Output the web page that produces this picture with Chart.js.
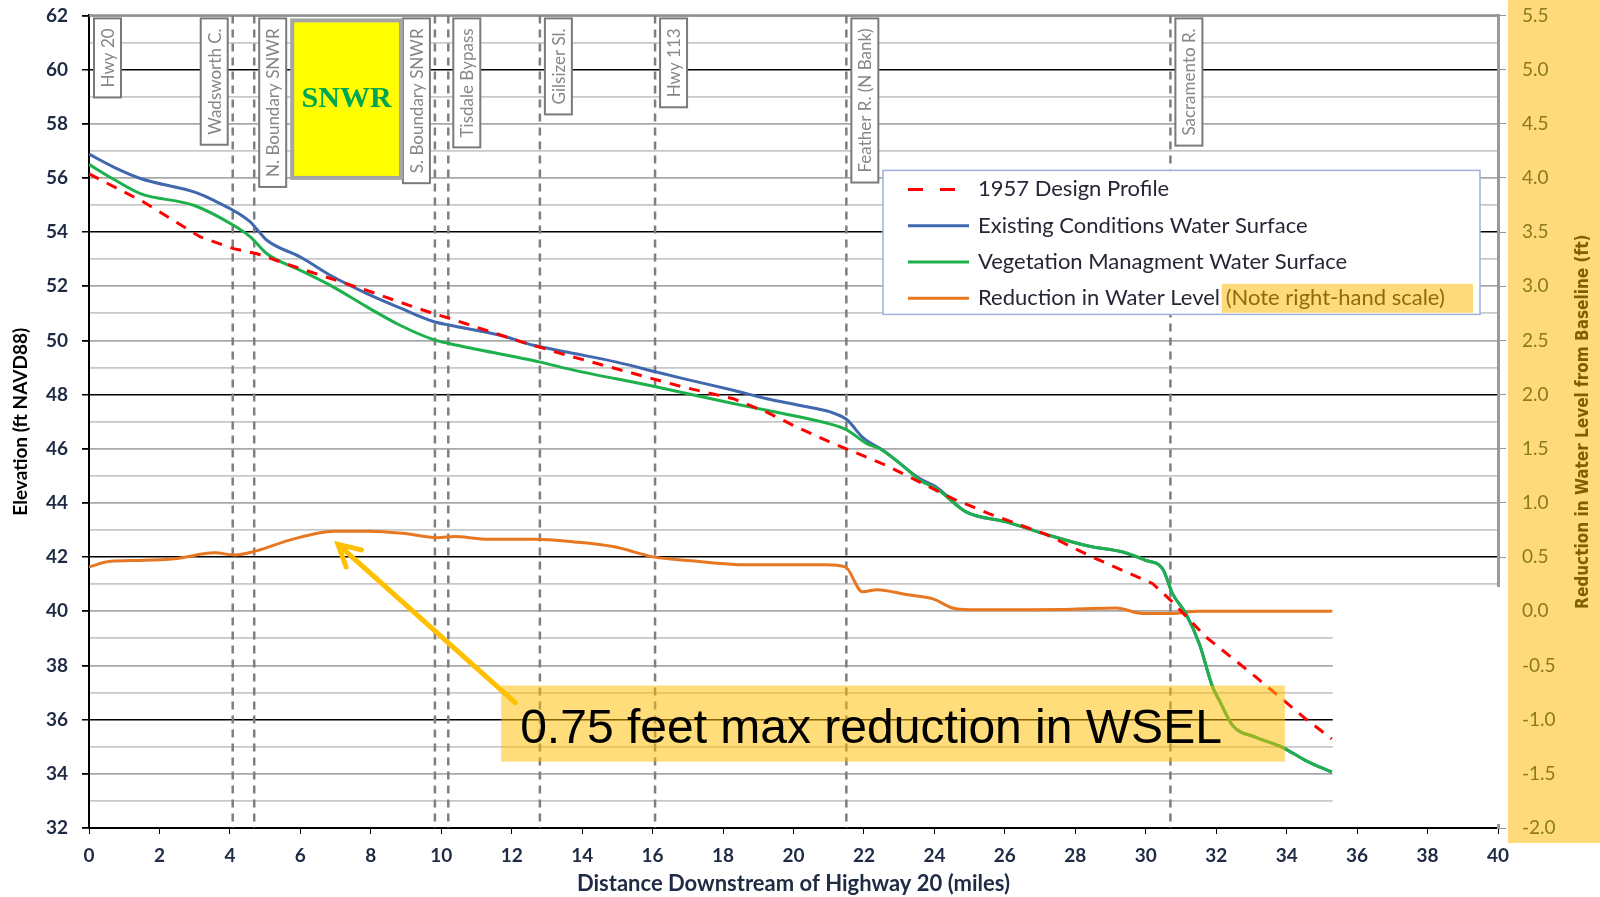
<!DOCTYPE html>
<html>
<head>
<meta charset="utf-8">
<script src="https://cdn.jsdelivr.net/npm/chart.js@4.4.1/dist/chart.umd.min.js"></script>
<style>
html, body { margin: 0; padding: 0; background: #fff; overflow: hidden; }
#wrap { width: 1600px; height: 909px; position: relative; margin-top: -12px; }
</style>
</head>
<body>
<div id="wrap"><canvas id="profile"></canvas></div>
<script>
// Sutter Bypass water surface profiles, distance in miles downstream of Hwy 20

// 1957 design profile (ft NAVD88)
const designMiles = [0, 1.55, 3.16, 4.1, 4.77, 6.0, 7.89, 8.83, 9.78, 10.25, 12.15, 13.57, 15.46, 16.87, 18.29, 19.24, 20.19, 21.13, 21.5, 22.63, 24.52, 25.56, 27.17, 28.49, 30.2, 30.76, 31.71, 33.13, 34.54, 35.28];
const designElev = [56.15, 55.11, 53.82, 53.39, 53.2, 52.65, 51.85, 51.41, 50.99, 50.81, 50.0, 49.45, 48.78, 48.28, 47.85, 47.35, 46.74, 46.19, 46.0, 45.39, 44.16, 43.6, 42.84, 42.0, 41.02, 40.34, 39.05, 37.57, 36.03, 35.29];

// existing conditions water surface
const existingMiles = [0, 0.7, 1.46, 3.06, 3.53, 4.58, 4.77, 5.05, 6.0, 6.94, 7.89, 8.83, 9.78, 10.25, 11.67, 12.62, 13.57, 14.98, 16.12, 16.87, 18.29, 19.24, 20.19, 21.04, 21.51, 21.98, 22.55, 23.58, 24.05, 24.9, 26.04, 27.17, 28.4, 29.35, 30.0, 30.48, 30.76, 31.14, 31.52, 31.9, 32.09, 32.47, 33.13, 33.88, 34.54, 35.28];
const existingElev = [56.88, 56.4, 55.98, 55.45, 55.18, 54.38, 54.1, 53.7, 53.08, 52.34, 51.73, 51.2, 50.7, 50.56, 50.19, 49.82, 49.57, 49.2, 48.83, 48.59, 48.16, 47.85, 47.6, 47.36, 47.08, 46.4, 45.94, 44.9, 44.59, 43.67, 43.3, 42.84, 42.4, 42.19, 41.88, 41.57, 40.65, 39.91, 38.8, 37.2, 36.71, 35.78, 35.35, 34.98, 34.49, 34.06];

// vegetation management water surface
const vegMiles = [0, 0.7, 1.46, 2.97, 4.1, 4.58, 5.05, 6.0, 6.94, 7.89, 8.83, 9.78, 10.25, 12.81, 13.57, 16.12, 18.29, 19.24, 20.94, 21.51, 22.08, 22.45, 23.2, 23.58, 24.05, 24.9, 26.04, 27.17, 28.4, 29.35, 30.0, 30.48, 30.76, 31.14, 31.52, 31.9, 32.09, 32.47, 33.13, 33.88, 34.54, 35.28];
const vegElev = [56.5, 55.95, 55.42, 54.99, 54.25, 53.82, 53.2, 52.59, 51.97, 51.24, 50.56, 50.03, 49.88, 49.2, 48.96, 48.28, 47.67, 47.42, 46.95, 46.7, 46.19, 46.0, 45.27, 44.84, 44.53, 43.67, 43.3, 42.84, 42.4, 42.19, 41.88, 41.57, 40.65, 39.91, 38.8, 37.2, 36.71, 35.78, 35.35, 34.98, 34.49, 34.06];

// reduction in water level (ft, right-hand scale)
const reductionMiles = [0, 0.57, 1.46, 2.43, 3.57, 4.13, 4.78, 5.67, 6.97, 7.94, 8.91, 9.89, 10.37, 11.35, 12.64, 13.78, 14.91, 16.05, 17.0, 18.64, 20.9, 21.47, 21.96, 22.37, 23.2, 23.96, 24.52, 25.0, 27.93, 29.16, 29.91, 30.7, 31.52, 35.28];
const reductionFt = [0.41, 0.46, 0.47, 0.485, 0.54, 0.52, 0.56, 0.655, 0.74, 0.74, 0.72, 0.68, 0.69, 0.665, 0.665, 0.64, 0.595, 0.5, 0.47, 0.43, 0.43, 0.41, 0.18, 0.2, 0.155, 0.115, 0.03, 0.015, 0.02, 0.03, -0.02, -0.02, 0, 0];

// landmarks along the bypass (mile of the dashed line, side of the label box)
const landmarkNames = ['Hwy 20', 'Wadsworth C.', 'N. Boundary SNWR', 'S. Boundary SNWR', 'Tisdale Bypass', 'Gilsizer Sl.', 'Hwy 113', 'Feather R. (N Bank)', 'Sacramento R.'];
const landmarkMiles = [0, 4.08, 4.69, 9.82, 10.2, 12.8, 16.07, 21.5, 30.7];
const landmarkSide = ['right', 'left', 'right', 'left', 'right', 'right', 'right', 'right', 'right'];

const xTicks = [0, 40, 2];
const leftTicks = [32, 62];
const rightTicks = [-2.0, 5.5, 0.5];

const annotationText = '0.75 feet max reduction in WSEL';
const legendNote = '(Note right-hand scale)';

function toPoints(xs, ys) {
    return xs.map((x, i) => ({ x: x, y: ys[i] }));
}

const calibri = 'Lato, "Open Sans", sans-serif';
const narrow = '"Liberation Sans Narrow", "DejaVu Sans Condensed", sans-serif';

const extras = {
    id: 'extras',
    beforeDraw(chart) {
        const { ctx, chartArea: a, width } = chart;
        ctx.save();
        ctx.fillStyle = '#fff';
        ctx.fillRect(0, 0, width, chart.height);
        // yellow band behind the right-hand scale
        ctx.fillStyle = '#FFDA7B';
        ctx.fillRect(a.right + 10, 0, width - a.right - 10, a.bottom + 15);
        ctx.restore();
    },
    beforeDatasetsDraw(chart) {
        const { ctx, chartArea: a, scales } = chart;
        const X = v => scales.x.getPixelForValue(v);
        const Y = v => scales.y.getPixelForValue(v);
        ctx.save();
        // top frame line
        ctx.strokeStyle = '#8f8f8f';
        ctx.lineWidth = 2.5;
        ctx.beginPath();
        ctx.moveTo(a.left, a.top);
        ctx.lineTo(a.right, a.top);
        ctx.stroke();
        // blank corner below the profiles past their end
        ctx.fillStyle = '#fff';
        const endX = X(reductionMiles[reductionMiles.length - 1]) + 1;
        ctx.fillRect(endX, Y(40.9), a.right + 10 - endX, Y(32.15) - Y(40.9));
        // dashed landmark lines
        ctx.strokeStyle = '#7f7f7f';
        ctx.lineWidth = 2.5;
        ctx.setLineDash([8, 6]);
        landmarkMiles.forEach(m => {
            if (m <= 0) return;
            ctx.beginPath();
            ctx.moveTo(X(m), a.top);
            ctx.lineTo(X(m), a.bottom);
            ctx.stroke();
        });
        ctx.setLineDash([]);
        // landmark label boxes
        ctx.font = '17px ' + calibri;
        const boxes = {};
        landmarkNames.forEach((name, i) => {
            const tw = ctx.measureText(name).width;
            const bw = 27, bh = tw + 20;
            const lx = X(landmarkMiles[i]);
            const bx = landmarkSide[i] === 'left' ? lx - 5 - bw : lx + 5;
            const by = a.top + 3;
            boxes[name] = { x: bx, w: bw };
            ctx.fillStyle = '#fff';
            ctx.fillRect(bx, by, bw, bh);
            ctx.strokeStyle = '#7a7a7a';
            ctx.lineWidth = 2;
            ctx.strokeRect(bx, by, bw, bh);
            ctx.save();
            ctx.translate(bx + bw / 2, by + bh / 2);
            ctx.rotate(-Math.PI / 2);
            ctx.fillStyle = '#8a8782';
            ctx.textAlign = 'center';
            ctx.textBaseline = 'middle';
            ctx.fillText(name, 0, 1);
            ctx.restore();
        });
        // SNWR refuge block between the two boundary labels
        const nb = boxes['N. Boundary SNWR'], sb = boxes['S. Boundary SNWR'];
        const sx = nb.x + nb.w + 6, ex = sb.x - 2;
        const sy = a.top + 5, ey = Y(56.0);
        ctx.fillStyle = '#FFFF00';
        ctx.fillRect(sx, sy, ex - sx, ey - sy);
        ctx.strokeStyle = '#a6a6a6';
        ctx.lineWidth = 4;
        ctx.strokeRect(sx, sy, ex - sx, ey - sy);
        ctx.fillStyle = '#00A651';
        ctx.font = 'bold 30px "Liberation Serif", "DejaVu Serif", serif';
        ctx.textAlign = 'center';
        ctx.textBaseline = 'middle';
        ctx.fillText('SNWR', (sx + ex) / 2, (sy + ey) / 2);
        ctx.restore();
    },
    afterDatasetsDraw(chart) {
        const { ctx, chartArea: a, scales, width } = chart;
        const X = v => scales.x.getPixelForValue(v);
        const Y = v => scales.y.getPixelForValue(v);
        ctx.save();
        // callout box
        const bx0 = X(11.7), bx1 = X(33.95), by0 = Y(37.26), by1 = Y(34.45);
        ctx.fillStyle = 'rgba(255, 190, 0, 0.52)';
        ctx.fillRect(bx0, by0, bx1 - bx0, by1 - by0);
        ctx.fillStyle = '#000';
        ctx.font = '48px "Liberation Sans", Arial, sans-serif';
        ctx.textAlign = 'left';
        ctx.textBaseline = 'alphabetic';
        ctx.fillText(annotationText, X(12.24), Y(35.12));
        // arrow to the maximum
        const tx = X(7.07), ty = Y(42.47), sx = X(12.1), sy = Y(36.63);
        const ang = Math.atan2(sy - ty, sx - tx);
        ctx.strokeStyle = '#FFC000';
        ctx.lineWidth = 5;
        ctx.lineCap = 'round';
        ctx.beginPath();
        ctx.moveTo(sx, sy);
        ctx.lineTo(tx, ty);
        ctx.moveTo(tx + 24 * Math.cos(ang - 0.5), ty + 24 * Math.sin(ang - 0.5));
        ctx.lineTo(tx, ty);
        ctx.lineTo(tx + 24 * Math.cos(ang + 0.5), ty + 24 * Math.sin(ang + 0.5));
        ctx.stroke();
        ctx.lineCap = 'butt';
        // legend
        const lx = a.right - 615, ly = a.top + 155, lw = 597, lh = 144;
        ctx.fillStyle = '#fff';
        ctx.fillRect(lx, ly, lw, lh);
        ctx.strokeStyle = '#9db3da';
        ctx.lineWidth = 1.5;
        ctx.strokeRect(lx, ly, lw, lh);
        ctx.font = '22px ' + calibri;
        ctx.textBaseline = 'middle';
        chart.data.datasets.forEach((ds, i) => {
            const ry = ly + 19 + i * 36.3;
            ctx.strokeStyle = ds.borderColor;
            ctx.lineWidth = 3;
            ctx.setLineDash(ds.borderDash ? [15, 17] : []);
            ctx.beginPath();
            ctx.moveTo(lx + 25, ry);
            ctx.lineTo(lx + 86, ry);
            ctx.stroke();
            ctx.setLineDash([]);
            ctx.fillStyle = '#262636';
            ctx.fillText(ds.label, lx + 95, ry);
            if (ds.yAxisID === 'y1') {
                const nx = lx + 95 + ctx.measureText(ds.label + ' ').width;
                ctx.fillStyle = '#FFDA7B';
                ctx.fillRect(nx - 4, ry - 14.5, lx + lw - 7 - (nx - 4), 29);
                ctx.fillStyle = '#8E6C0A';
                ctx.fillText(legendNote, nx, ry);
            }
        });
        // right-hand axis title
        ctx.save();
        ctx.translate(width - 16, (a.top + a.bottom) / 2);
        ctx.rotate(-Math.PI / 2);
        ctx.fillStyle = '#7F6000';
        ctx.font = 'bold 17px ' + narrow;
        ctx.textAlign = 'center';
        ctx.textBaseline = 'middle';
        ctx.fillText('Reduction in Water Level from Baseline (ft)', 0, 0);
        ctx.restore();
        ctx.restore();
    }
};

const blackLines = [36, 42, 48, 54, 60];

new Chart(document.getElementById('profile'), {
    type: 'line',
    data: {
        datasets: [
            { label: '1957 Design Profile', data: toPoints(designMiles, designElev), borderColor: '#FF0000', borderWidth: 3, borderDash: [11, 9], order: 1, yAxisID: 'y' },
            { label: 'Existing Conditions Water Surface', data: toPoints(existingMiles, existingElev), borderColor: '#4168AE', borderWidth: 3, cubicInterpolationMode: 'monotone', order: 3, yAxisID: 'y' },
            { label: 'Vegetation Managment Water Surface', data: toPoints(vegMiles, vegElev), borderColor: '#1DB04B', borderWidth: 3, cubicInterpolationMode: 'monotone', order: 2, yAxisID: 'y' },
            { label: 'Reduction in Water Level', data: toPoints(reductionMiles, reductionFt), borderColor: '#E87722', borderWidth: 3, cubicInterpolationMode: 'monotone', order: 4, yAxisID: 'y1' }
        ]
    },
    options: {
        responsive: true,
        maintainAspectRatio: false,
        animation: false,
        layout: { padding: { top: 5, left: 0, right: 0, bottom: 0 } },
        elements: { point: { radius: 0 }, line: { fill: false } },
        plugins: { legend: { display: false }, tooltip: { enabled: false } },
        scales: {
            x: {
                type: 'linear',
                min: xTicks[0], max: xTicks[1],
                afterFit: s => { s.height = 69; },
                ticks: { stepSize: xTicks[2], color: '#1F2A44', font: { family: calibri, size: 19, weight: 'bold' }, padding: 10, maxRotation: 0 },
                grid: { drawOnChartArea: false, drawTicks: true, tickLength: 6, color: '#000' },
                border: { color: '#000', width: 2 },
                title: { display: true, text: 'Distance Downstream of Highway 20 (miles)', color: '#1F2A44', font: { family: calibri, size: 22, weight: 'bold', lineHeight: 1 }, padding: { top: 0, bottom: 2 } }
            },
            y: {
                position: 'left',
                min: leftTicks[0], max: leftTicks[1],
                afterFit: s => { s.width = 89; },
                ticks: { stepSize: 1, autoSkip: false, color: '#1F2A44', font: { family: calibri, size: 19, weight: 'bold' }, padding: 14, callback: v => (v % 2 === 0 ? String(v) : '') },
                grid: {
                    tickLength: 7,
                    color: c => blackLines.includes(c.tick.value) ? '#000' : (c.tick.value % 2 === 0 ? '#a8a8a8' : '#c8c8c8'),
                    tickColor: c => (c.tick.value % 2 === 0 ? '#000' : 'rgba(0,0,0,0)'),
                    lineWidth: c => (blackLines.includes(c.tick.value) ? 1.5 : 1.8)
                },
                border: { color: '#000', width: 2 },
                title: { display: true, text: 'Elevation (ft NAVD88)', color: '#000', font: { family: calibri, size: 19, weight: 'bold' }, padding: { top: 9, bottom: 0 } }
            },
            y1: {
                position: 'right',
                min: rightTicks[0], max: rightTicks[1],
                afterFit: s => { s.width = 102; },
                ticks: { stepSize: rightTicks[2], autoSkip: false, color: '#8B7A1E', font: { family: calibri, size: 19 }, padding: 16, callback: v => v.toFixed(1) },
                grid: { drawOnChartArea: false, tickLength: 8, color: '#999' },
                border: { color: '#9a9a9a', width: 3 }
            }
        }
    },
    plugins: [extras]
});
</script>
</body>
</html>
